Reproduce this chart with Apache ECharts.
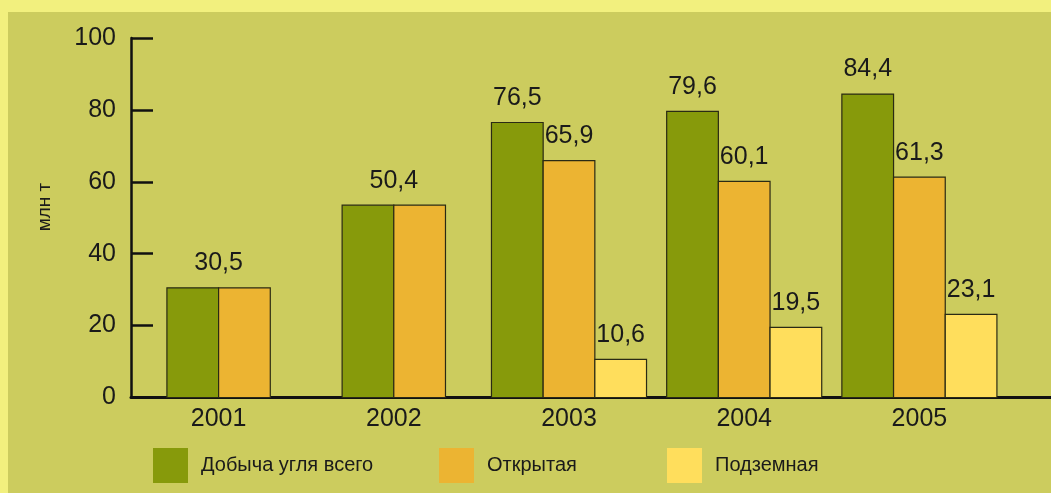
<!DOCTYPE html>
<html>
<head>
<meta charset="utf-8">
<script src="https://cdn.jsdelivr.net/npm/echarts@6/dist/echarts.min.js"></script>
<style>
  html, body { margin: 0; padding: 0; background: #f2f07e; }
  #chart { position: absolute; left: 8px; top: 12px; width: 1043px; height: 481px; }
</style>
</head>
<body>
<div id="chart"></div>
<script>
// data
var years = ['2001', '2002', '2003', '2004', '2005'];
var seriesNames = ['Добыча угля всего', 'Открытая', 'Подземная'];
var total = [30.5, 53.5, 76.5, 79.6, 84.4];
var open = [30.5, 53.5, 65.9, 60.1, 61.3];
var under = [null, null, 10.6, 19.5, 23.1];
var totalText = ['30,5', '50,4', '76,5', '79,6', '84,4'];
var openText = ['', '', '65,9', '60,1', '61,3'];
var underText = ['', '', '10,6', '19,5', '23,1'];

var allValues = [total, open, under];
var allTexts = [totalText, openText, underText];
var colors = ['#879a0b', '#ecb432', '#ffde5c'];
var FONT = "'Liberation Sans', Arial, sans-serif";

var chart = echarts.init(document.getElementById('chart'));

function makeRender(s) {
    return function (params, api) {
        var idx = api.value(0);
        var present = [];
        for (var k = 0; k < allValues.length; k++) {
            if (allValues[k][idx] != null) present.push(k);
        }
        var n = present.length;
        var pos = present.indexOf(s);
        var barW = api.size([1, 0])[0] * 0.295;
        var base = api.coord([idx, 0]);
        var top = api.coord([idx, api.value(1)]);
        var x0 = base[0] - n * barW / 2 + pos * barW;
        var labelX = x0 + barW / 2;
        // total and open equal -> one label over the pair
        if (s === 0 && open[idx] === total[idx]) labelX = base[0];
        var children = [{
            type: 'rect',
            shape: {x: x0, y: top[1], width: barW, height: base[1] - top[1]},
            style: {fill: colors[s], stroke: '#2a2a14', lineWidth: 1.2}
        }];
        var txt = allTexts[s][idx];
        if (txt) {
            children.push({
                type: 'text',
                x: labelX,
                y: top[1] - 12,
                style: {
                    text: txt,
                    align: 'center',
                    verticalAlign: 'bottom',
                    fontSize: 25,
                    fontFamily: FONT,
                    fill: '#1a1a1a'
                }
            });
        }
        return {type: 'group', children: children};
    };
}

var series = [];
for (var s = 0; s < 3; s++) {
    var data = [];
    for (var i = 0; i < years.length; i++) {
        if (allValues[s][i] != null) data.push([i, allValues[s][i]]);
    }
    series.push({
        name: seriesNames[s],
        type: 'custom',
        xAxisIndex: 0,
        yAxisIndex: 0,
        renderItem: makeRender(s),
        itemStyle: {color: colors[s]},
        encode: {x: 0, y: 1},
        data: data
    });
}

function legendAt(name, left) {
    return {
        data: [name],
        left: left,
        top: 436,
        padding: 0,
        icon: 'rect',
        itemWidth: 35,
        itemHeight: 35,
        selectedMode: false,
        itemStyle: {borderWidth: 0},
        textStyle: {fontSize: 20, fontFamily: FONT, color: '#1a1a1a', padding: [0, 0, 0, 8]}
    };
}

var option = {
    backgroundColor: '#cccc5e',
    animation: false,
    grid: [
        {left: 123, right: 44, top: 26, bottom: 95.5},
        {left: 123, right: 0, top: 26, bottom: 95.5}
    ],
    xAxis: [{
        type: 'category',
        gridIndex: 0,
        data: years,
        axisLine: {show: false},
        axisTick: {show: false},
        axisLabel: {fontSize: 25, fontFamily: FONT, color: '#1a1a1a', margin: 9}
    }, {
        type: 'value',
        gridIndex: 1,
        min: 0,
        max: 1,
        axisLine: {show: true, lineStyle: {color: '#111', width: 3}},
        axisTick: {show: false},
        axisLabel: {show: false},
        splitLine: {show: false}
    }],
    yAxis: [{
        type: 'value',
        gridIndex: 0,
        min: 0,
        max: 100,
        interval: 20,
        axisLine: {show: true, lineStyle: {color: '#111', width: 2.5}},
        axisTick: {show: true, inside: true, length: 22, lineStyle: {color: '#111', width: 2.5}},
        axisLabel: {fontSize: 25, fontFamily: FONT, color: '#1a1a1a', margin: 15},
        splitLine: {show: false}
    }, {
        type: 'value',
        gridIndex: 1,
        show: false,
        min: 0,
        max: 100
    }],
    legend: [
        legendAt(seriesNames[0], 145),
        legendAt(seriesNames[1], 431),
        legendAt(seriesNames[2], 659)
    ],
    graphic: [{
        type: 'text',
        x: 37,
        y: 195,
        rotation: Math.PI / 2,
        style: {
            text: 'млн т',
            align: 'center',
            verticalAlign: 'middle',
            fontSize: 19,
            fontFamily: FONT,
            fill: '#1a1a1a'
        }
    }],
    series: series
};

chart.setOption(option);
</script>
</body>
</html>
